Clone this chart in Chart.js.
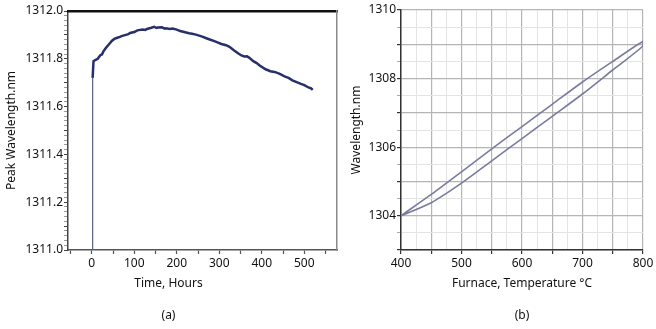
<!DOCTYPE html>
<html>
<head>
<meta charset="utf-8">
<script src="https://cdn.jsdelivr.net/npm/chart.js@4"></script>
<style>
  html, body { margin: 0; padding: 0; background: #ffffff; }
  body { width: 656px; height: 329px; position: relative; overflow: hidden; }
  #wrapA { position: absolute; left: 0; top: 0; width: 340px; height: 329px; }
  #wrapB { position: absolute; left: 340px; top: 0; width: 316px; height: 329px; }
</style>
</head>
<body>
<div id="wrapA"><canvas id="chartA" width="340" height="329"></canvas></div>
<div id="wrapB"><canvas id="chartB" width="316" height="329"></canvas></div>
<script>
// ---------- Data: (a) peak wavelength vs time ----------
const timeHours = [2, 2, 4, 8, 14, 20, 24, 27, 33, 40, 44, 47, 53, 60, 66, 70, 80, 86, 90, 100, 106, 110, 120, 126, 130, 140, 147, 152, 155, 165, 172, 175, 183, 190, 200, 208, 215, 229, 236, 245, 260, 268, 276, 290, 297, 305, 316, 324, 335, 345, 352, 359, 365, 370, 380, 388, 395, 410, 415, 420, 430, 441, 447, 455, 463, 472, 485, 492, 500, 510, 516, 520];
const peakWavelength = [1311.00, 1311.72, 1311.79, 1311.795, 1311.80, 1311.815, 1311.818, 1311.83, 1311.845, 1311.86, 1311.868, 1311.875, 1311.883, 1311.888, 1311.892, 1311.895, 1311.90, 1311.903, 1311.908, 1311.912, 1311.918, 1311.92, 1311.923, 1311.921, 1311.925, 1311.93, 1311.934, 1311.929, 1311.931, 1311.932, 1311.926, 1311.928, 1311.925, 1311.927, 1311.922, 1311.916, 1311.913, 1311.907, 1311.905, 1311.901, 1311.893, 1311.887, 1311.882, 1311.873, 1311.868, 1311.862, 1311.857, 1311.85, 1311.835, 1311.822, 1311.814, 1311.81, 1311.811, 1311.805, 1311.79, 1311.782, 1311.772, 1311.755, 1311.752, 1311.748, 1311.745, 1311.738, 1311.733, 1311.725, 1311.72, 1311.71, 1311.70, 1311.695, 1311.69, 1311.68, 1311.676, 1311.67];

// ---------- Data: (b) wavelength vs furnace temperature (loop) ----------
const tempLower = [400, 450, 500, 550, 600, 650, 700, 750, 800];
const wlLower   = [1304.0, 1304.38, 1304.95, 1305.6, 1306.25, 1306.9, 1307.55, 1308.25, 1308.95];
const tempUpper = [800, 750, 700, 650, 600, 550, 500, 450, 400];
const wlUpper   = [1309.08, 1308.5, 1307.9, 1307.25, 1306.6, 1305.95, 1305.28, 1304.62, 1304.0];

// ---------- Tick labels ----------
const aXLabels = [0, 100, 200, 300, 400, 500];
const aYLabels = [1311.0, 1311.2, 1311.4, 1311.6, 1311.8, 1312.0];
const bXLabels = [400, 500, 600, 700, 800];
const bYLabels = [1304, 1306, 1308, 1310];

const FONT = { family: "'Noto Sans', 'Open Sans', sans-serif", size: 12 };
const near = (a, b) => Math.abs(a - b) < 1e-6;
const inList = (v, list) => list.some(x => near(x, v));
const isMult = (v, step) => Math.abs(v / step - Math.round(v / step)) < 1e-6;
const range = (a, b, s) => { const r = []; const n = Math.round((b - a) / s); for (let i = 0; i <= n; i++) r.push(+(a + i * s).toFixed(6)); return r; };
const setTicks = vals => scale => { scale.ticks = vals.map(v => ({ value: v })); };

// ---------- Chart (a) ----------
new Chart(document.getElementById('chartA'), {
  type: 'scatter',
  data: {
    datasets: [{
      data: timeHours.map((t, i) => ({ x: t, y: peakWavelength[i] })),
      showLine: true,
      borderColor: '#27306a',
      borderWidth: 2.5,
      pointRadius: 0,
      tension: 0,
      segment: {
        borderWidth: c => c.p0DataIndex === 0 ? 1.2 : undefined,
        borderColor: c => c.p0DataIndex === 0 ? '#5a5e80' : undefined
      }
    }]
  },
  options: {
    responsive: false,
    animation: false,
    devicePixelRatio: 1,
    layout: { padding: { left: 0, right: 3, top: 11, bottom: 0 } },
    plugins: {
      legend: { display: false },
      tooltip: { enabled: false },
      subtitle: { display: true, text: 'Time, Hours', position: 'bottom', fullSize: true, color: '#111', font: FONT, padding: { top: 2, bottom: 7.6 } },
      title: { display: true, text: '(a)', position: 'bottom', fullSize: true, color: '#111', font: { ...FONT, weight: 'normal' }, padding: { top: 10, bottom: 5.8 } }
    },
    scales: {
      x: {
        type: 'linear', min: -56, max: 577,
        afterBuildTicks: setTicks(range(-50, 550, 50)),
        afterFit: s => { s.height = 24.8; },
        border: { color: '#555', width: 1.5 },
        grid: { drawOnChartArea: false, drawTicks: true, tickLength: 4, tickColor: '#555', tickWidth: 1.2 },
        ticks: { autoSkip: false, maxRotation: 0, color: '#111', font: FONT, padding: 2,
          callback: v => inList(v, aXLabels) ? String(v) : '' }
      },
      y: {
        type: 'linear', min: 1311, max: 1312,
        afterBuildTicks: setTicks(range(1311, 1312, 0.02)),
        afterFit: s => { s.width = 68; },
        border: { color: '#444', width: 1.5 },
        grid: { drawOnChartArea: false, drawTicks: true, tickLength: 4,
          tickColor: c => isMult(c.tick.value - 1311, 0.1) ? '#444' : '#9a9a9a', tickWidth: 1 },
        ticks: { autoSkip: false, color: '#111', font: FONT, padding: 1,
          callback: v => inList(v, aYLabels) ? v.toFixed(1) : '' },
        title: { display: true, text: 'Peak Wavelength.nm', color: '#111', font: FONT, padding: { top: 4.8, bottom: 0 } }
      },
      xTop: {
        type: 'linear', axis: 'x', position: 'top', min: -56, max: 577,
        afterFit: s => { s.height = 0; },
        border: { color: '#111', width: 2.5 },
        grid: { drawOnChartArea: false, drawTicks: false },
        ticks: { display: false }
      },
      yRight: {
        type: 'linear', axis: 'y', position: 'right', min: 1311, max: 1312,
        afterFit: s => { s.width = 0; },
        border: { color: '#8a8a8a', width: 1.5 },
        grid: { drawOnChartArea: false, drawTicks: false },
        ticks: { display: false }
      }
    }
  }
});

// ---------- Chart (b) ----------
new Chart(document.getElementById('chartB'), {
  type: 'scatter',
  data: {
    datasets: [{
      data: tempLower.map((t, i) => ({ x: t, y: wlLower[i] }))
        .concat(tempUpper.map((t, i) => ({ x: t, y: wlUpper[i] }))),
      showLine: true,
      borderColor: '#7b7b9e',
      borderWidth: 1.6,
      pointRadius: 0,
      tension: 0.25
    }]
  },
  options: {
    responsive: false,
    animation: false,
    devicePixelRatio: 1,
    layout: { padding: { left: 0, right: 13, top: 10, bottom: 0 } },
    plugins: {
      legend: { display: false },
      tooltip: { enabled: false },
      subtitle: { display: true, text: 'Furnace, Temperature °C', position: 'bottom', fullSize: false, color: '#111', font: FONT, padding: { top: 2, bottom: 7.6 } },
      title: { display: true, text: '(b)', position: 'bottom', fullSize: false, color: '#111', font: { ...FONT, weight: 'normal' }, padding: { top: 10, bottom: 5.8 } }
    },
    scales: {
      x: {
        type: 'linear', min: 400, max: 800,
        afterBuildTicks: setTicks(range(400, 800, 25)),
        afterFit: s => { s.height = 24.8; },
        border: { color: '#333', width: 1.5 },
        grid: { drawOnChartArea: true, drawTicks: true, tickLength: 4,
          color: c => isMult(c.tick.value, 50) ? '#b5b5b5' : '#e4e4e4',
          lineWidth: c => isMult(c.tick.value, 50) ? 1.2 : 1,
          tickColor: c => isMult(c.tick.value, 50) ? '#333' : 'rgba(0,0,0,0)' },
        ticks: { autoSkip: false, maxRotation: 0, color: '#111', font: FONT, padding: 2,
          callback: v => inList(v, bXLabels) ? String(v) : '' }
      },
      y: {
        type: 'linear', min: 1303, max: 1310,
        afterBuildTicks: setTicks(range(1303, 1310, 0.5)),
        afterFit: s => { s.width = 61; },
        border: { color: '#333', width: 1.5 },
        grid: { drawOnChartArea: true, drawTicks: true, tickLength: 4,
          color: c => isMult(c.tick.value, 1) ? '#b5b5b5' : '#e4e4e4',
          lineWidth: c => isMult(c.tick.value, 1) ? 1.2 : 1,
          tickColor: c => isMult(c.tick.value, 1) ? '#333' : '#aaa' },
        ticks: { autoSkip: false, color: '#111', font: FONT, padding: 1,
          callback: v => inList(v, bYLabels) ? String(v) : '' },
        title: { display: true, text: 'Wavelength.nm', color: '#111', font: FONT, padding: { top: 9.8, bottom: 0 } }
      }
    }
  }
});
</script>
</body>
</html>
